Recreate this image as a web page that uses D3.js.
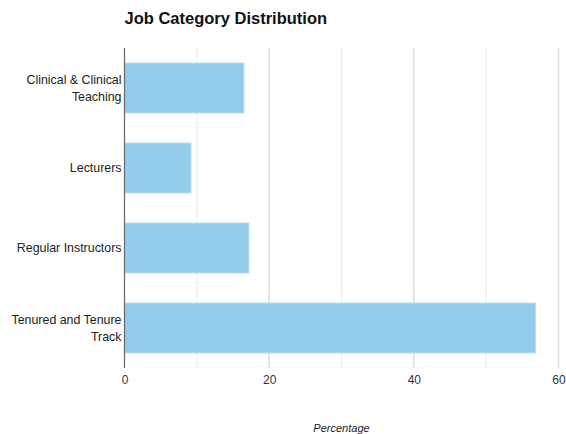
<!DOCTYPE html>
<html>
<head>
<meta charset="utf-8">
<script src="https://cdn.jsdelivr.net/npm/d3@7"></script>
<style>
  body { margin: 0; background: #fff; }
  svg { display: block; font-family: "Liberation Sans", Arial, sans-serif; }
</style>
</head>
<body>
<svg id="chart" width="566" height="434"></svg>
<script>
// Job categories and their share of faculty (%)
const categories = [
  ["Clinical & Clinical", "Teaching"],
  ["Lecturers"],
  ["Regular Instructors"],
  ["Tenured and Tenure", "Track"]
];
const percentages = [16.5, 9.2, 17.2, 56.8];
const xTicks = [0, 20, 40, 60];
const gridValues = [10, 20, 30, 40, 50, 60];

const svg = d3.select("#chart");
const margin = { top: 48, right: 8, bottom: 66, left: 124.5 };
const width = 566, height = 434;

const x = d3.scaleLinear().domain([0, 60]).range([margin.left, 558.5]);
const y = d3.scaleBand()
  .domain(categories.map((d, i) => i))
  .range([margin.top, height - margin.bottom])
  .paddingInner(0.375)
  .paddingOuter(0.1875);

// Title
svg.append("text")
  .attr("x", margin.left)
  .attr("y", 24)
  .attr("font-size", 16.5)
  .attr("font-weight", "bold")
  .attr("fill", "#111")
  .text("Job Category Distribution");

// Vertical gridlines
svg.append("g")
  .selectAll("line")
  .data(gridValues)
  .join("line")
  .attr("x1", d => x(d)).attr("x2", d => x(d))
  .attr("y1", margin.top).attr("y2", height - margin.bottom)
  .attr("stroke", d => d % 20 === 0 ? "#dedede" : "#ebebeb")
  .attr("stroke-width", d => d % 20 === 0 ? 1.5 : 1);

// Bars
svg.append("g")
  .selectAll("rect")
  .data(percentages)
  .join("rect")
  .attr("x", x(0))
  .attr("y", (d, i) => y(i))
  .attr("width", d => x(d) - x(0))
  .attr("height", y.bandwidth())
  .attr("fill", "#93cceb")
  .attr("stroke", "#b9def3")
  .attr("stroke-width", 1);

// Y axis line
svg.append("line")
  .attr("x1", x(0)).attr("x2", x(0))
  .attr("y1", margin.top).attr("y2", height - margin.bottom)
  .attr("stroke", "#666")
  .attr("stroke-width", 1.2);

// Category labels
const labels = svg.append("g")
  .selectAll("text")
  .data(categories)
  .join("text")
  .attr("text-anchor", "end")
  .attr("font-size", 12.4)
  .attr("fill", "#222")
  .attr("transform", (d, i) => `translate(${x(0) - 3},${y(i) + y.bandwidth() / 2})`);
labels.each(function (lines) {
  const t = d3.select(this);
  const lh = 17;
  const start = -(lines.length - 1) * lh / 2 + 4;
  lines.forEach((ln, k) => {
    t.append("tspan").attr("x", 0).attr("y", start + k * lh).text(ln);
  });
});

// X axis tick labels
const xAxis = d3.axisBottom(x).tickValues(xTicks).tickSize(0).tickPadding(7);
const gx = svg.append("g")
  .attr("transform", `translate(0,${height - margin.bottom})`)
  .call(xAxis);
gx.select(".domain").remove();
gx.selectAll("text")
  .attr("font-size", 12)
  .attr("font-family", "\"Liberation Sans\", Arial, sans-serif")
  .attr("fill", "#333");

// X axis title
svg.append("text")
  .attr("x", (x(0) + x(60)) / 2)
  .attr("y", 432)
  .attr("text-anchor", "middle")
  .attr("font-size", 11)
  .attr("font-style", "italic")
  .attr("fill", "#222")
  .text("Percentage");
</script>
</body>
</html>
